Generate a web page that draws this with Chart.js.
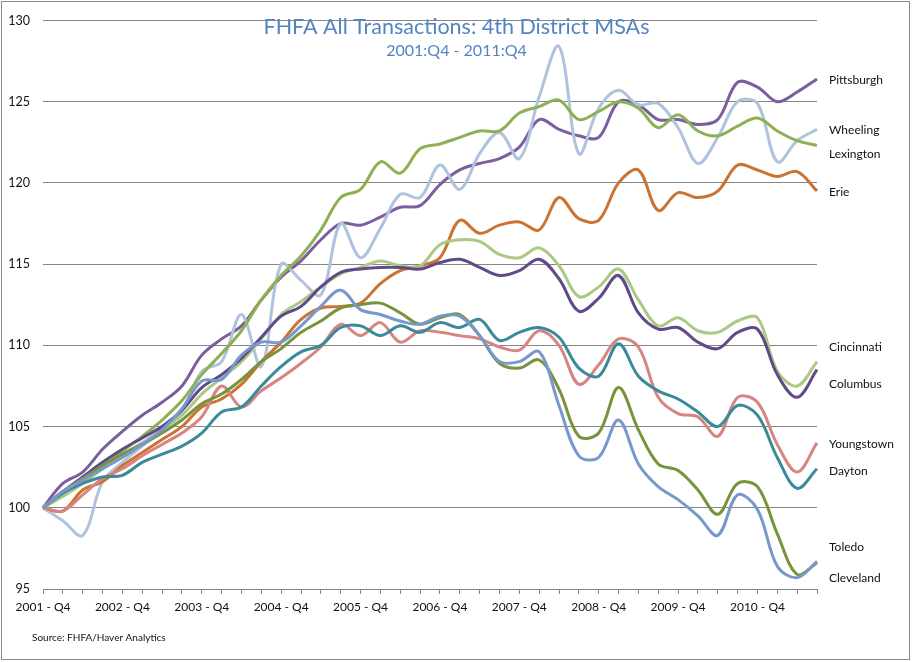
<!DOCTYPE html>
<html>
<head>
<meta charset="utf-8">
<script src="https://cdn.jsdelivr.net/npm/chart.js@4.4.1/dist/chart.umd.min.js"></script>
<style>
  html, body { margin: 0; padding: 0; background: #fff; }
</style>
</head>
<body>
<canvas id="myChart" width="913" height="662"></canvas>
<script>
const quarters = [
  '2001 - Q4', '2002 - Q1', '2002 - Q2', '2002 - Q3', '2002 - Q4', '2003 - Q1', '2003 - Q2', '2003 - Q3',
  '2003 - Q4', '2004 - Q1', '2004 - Q2', '2004 - Q3', '2004 - Q4', '2005 - Q1', '2005 - Q2', '2005 - Q3',
  '2005 - Q4', '2006 - Q1', '2006 - Q2', '2006 - Q3', '2006 - Q4', '2007 - Q1', '2007 - Q2', '2007 - Q3',
  '2007 - Q4', '2008 - Q1', '2008 - Q2', '2008 - Q3', '2008 - Q4', '2009 - Q1', '2009 - Q2', '2009 - Q3',
  '2009 - Q4', '2010 - Q1', '2010 - Q2', '2010 - Q3', '2010 - Q4', '2011 - Q1', '2011 - Q2', '2011 - Q3'
];

const pittsburgh = [100, 101.5, 102.2, 103.6, 104.7, 105.7, 106.5, 107.5, 109.4, 110.4, 111.2, 112.8, 114.2, 115.2, 116.5, 117.5, 117.4, 117.9, 118.5, 118.6, 119.9, 120.8, 121.2, 121.5, 122.2, 123.9, 123.3, 122.9, 122.8, 125.0, 124.8, 123.9, 123.9, 123.6, 123.9, 126.2, 125.9, 125.0, 125.6, 126.4];
const wheeling = [100, 99.2, 98.3, 101.6, 102.8, 103.8, 104.8, 106.0, 108.4, 109.0, 111.9, 108.7, 115.0, 114.0, 113.1, 117.5, 115.4, 117.2, 119.3, 119.1, 121.1, 119.6, 121.8, 123.1, 121.5, 125.3, 128.4, 121.8, 124.6, 125.7, 124.8, 124.9, 123.4, 121.2, 122.8, 125.0, 124.9, 121.3, 122.6, 123.3];
const lexington = [100, 100.8, 101.6, 102.5, 103.5, 104.4, 105.4, 106.6, 108.2, 109.5, 110.9, 112.8, 114.3, 115.5, 117.1, 119.1, 119.6, 121.3, 120.6, 122.1, 122.4, 122.8, 123.2, 123.2, 124.3, 124.7, 125.1, 123.9, 124.4, 125.0, 124.6, 123.4, 124.2, 123.2, 122.9, 123.5, 124.0, 123.2, 122.6, 122.3];
const erie = [100, 99.8, 101.1, 101.6, 102.6, 103.4, 104.2, 105.0, 106.2, 106.7, 107.6, 109.0, 110.2, 111.6, 112.3, 112.4, 112.6, 113.8, 114.6, 114.9, 115.4, 117.7, 116.9, 117.4, 117.6, 117.1, 119.1, 117.8, 117.7, 120.0, 120.8, 118.3, 119.4, 119.1, 119.5, 121.1, 120.8, 120.4, 120.7, 119.5];
const cincinnati = [100, 100.7, 101.5, 102.4, 103.3, 104.0, 104.8, 105.7, 107.0, 108.0, 109.0, 110.4, 111.9, 112.7, 113.6, 114.4, 114.8, 115.2, 114.9, 114.9, 116.2, 116.5, 116.4, 115.6, 115.4, 116.0, 114.9, 113.0, 113.6, 114.7, 112.8, 111.2, 111.7, 110.9, 110.8, 111.5, 111.7, 108.4, 107.5, 109.0];
const columbus = [100, 101.0, 101.9, 102.8, 103.6, 104.3, 105.0, 106.0, 107.4, 108.2, 109.2, 110.5, 111.8, 112.4, 113.6, 114.5, 114.7, 114.8, 114.8, 114.7, 115.1, 115.3, 114.8, 114.3, 114.6, 115.3, 114.1, 112.1, 112.9, 114.3, 112.0, 111.0, 111.1, 110.2, 109.8, 110.8, 111.0, 108.2, 106.8, 108.5];
const youngstown = [100, 99.8, 100.8, 101.8, 102.4, 103.2, 103.9, 104.6, 105.6, 107.5, 106.2, 107.2, 108.0, 108.9, 109.9, 111.3, 110.6, 111.4, 110.2, 110.9, 110.8, 110.6, 110.4, 109.9, 109.7, 110.9, 110.0, 107.6, 108.8, 110.4, 109.9, 106.8, 105.8, 105.6, 104.4, 106.8, 106.5, 103.9, 102.2, 104.0];
const dayton = [100, 100.9, 101.5, 101.9, 102.0, 102.8, 103.3, 103.8, 104.6, 105.9, 106.2, 107.5, 108.7, 109.6, 110.0, 111.1, 111.2, 110.6, 111.2, 110.8, 111.4, 111.1, 111.6, 110.3, 110.8, 111.1, 110.5, 108.6, 108.1, 110.1, 108.1, 107.2, 106.7, 105.9, 105.0, 106.3, 105.7, 103.1, 101.2, 102.4];
const toledo = [100, 101.0, 101.8, 102.6, 103.3, 103.9, 104.6, 105.4, 106.4, 107.0, 107.9, 109.0, 109.8, 110.8, 111.5, 112.3, 112.5, 112.6, 112.0, 111.3, 111.7, 111.9, 110.6, 108.9, 108.6, 109.1, 107.3, 104.4, 104.6, 107.4, 104.8, 102.7, 102.3, 101.1, 99.6, 101.5, 101.3, 98.4, 95.9, 96.6];
const cleveland = [100, 101.0, 101.7, 102.4, 103.1, 103.9, 104.8, 106.1, 107.8, 107.9, 109.4, 110.2, 110.2, 111.2, 112.4, 113.4, 112.2, 111.9, 111.5, 111.3, 111.8, 111.8, 110.6, 109.0, 109.0, 109.6, 106.3, 103.2, 103.1, 105.4, 102.7, 101.3, 100.5, 99.5, 98.3, 100.8, 99.9, 96.4, 95.7, 96.7];

const seriesNames = ['Pittsburgh', 'Wheeling', 'Lexington', 'Erie', 'Cincinnati', 'Columbus', 'Youngstown', 'Dayton', 'Toledo', 'Cleveland'];
const seriesData = [pittsburgh, wheeling, lexington, erie, cincinnati, columbus, youngstown, dayton, toledo, cleveland];
const seriesColors = ['#7B5E9F', '#AFC3DE', '#8DB152', '#CB7431', '#ABC983', '#604A8A', '#D68580', '#3A8A9B', '#77933C', '#7898CD'];
// where each name sits on the value axis, right of the plot
const labelAt = [126.35, 123.25, 121.8, 119.45, 109.9, 107.6, 103.9, 102.25, 97.6, 95.7];

const yTicks = [95, 100, 105, 110, 115, 120, 125, 130];

const fontFamily = 'Lato, "Open Sans", sans-serif';

const decorPlugin = {
  id: 'decor',
  afterDatasetsDraw(chart) {
    const ctx = chart.ctx;
    const y = chart.scales.y;
    const area = chart.chartArea;
    ctx.save();
    // series names
    ctx.font = '12px ' + fontFamily;
    ctx.fillStyle = '#111';
    ctx.textAlign = 'left';
    ctx.textBaseline = 'middle';
    seriesNames.forEach((name, i) => {
      ctx.fillText(name, area.right + 12, y.getPixelForValue(labelAt[i]));
    });
    // title
    ctx.textAlign = 'center';
    ctx.fillStyle = '#5284C2';
    ctx.font = '21.5px ' + fontFamily;
    ctx.fillText('FHFA All Transactions: 4th District MSAs', chart.width / 2, 27);
    ctx.font = '16px ' + fontFamily;
    ctx.fillText('2001:Q4 - 2011:Q4', chart.width / 2, 51);
    // source
    ctx.textAlign = 'left';
    ctx.fillStyle = '#111';
    ctx.font = '10px ' + fontFamily;
    ctx.fillText('Source: FHFA/Haver Analytics', 32, 638);
    // outer frame
    ctx.strokeStyle = '#8a8a8a';
    ctx.lineWidth = 1;
    ctx.strokeRect(1.5, 1.5, 908, 658);
    ctx.restore();
  }
};

const ctx = document.getElementById('myChart').getContext('2d');

const chart = new Chart(ctx, {
  type: 'line',
  data: {
    labels: quarters,
    datasets: seriesNames.map((name, i) => ({
      label: name,
      data: seriesData[i],
      borderColor: seriesColors[i],
      backgroundColor: seriesColors[i],
      borderWidth: 3,
      pointRadius: 0,
      tension: 0.35,
      fill: false
    })).reverse()
  },
  options: {
    responsive: false,
    animation: false,
    layout: { padding: { left: 0, right: 96, top: 15, bottom: 0 } },
    plugins: {
      legend: { display: false },
      title: { display: false },
      tooltip: { enabled: false }
    },
    scales: {
      x: {
        grid: { drawOnChartArea: false, drawTicks: true, tickLength: 5, color: '#868686' },
        border: { display: true, color: '#868686' },
        ticks: {
          autoSkip: false,
          maxRotation: 0,
          padding: 6,
          color: '#111',
          font: { family: fontFamily, size: 12 },
          callback: function(v, i) {
            const l = quarters[i];
            return l.endsWith('Q4') && i < 39 ? l : '';
          }
        },
        afterFit: s => { s.height = 73; }
      },
      y: {
        min: yTicks[0],
        max: yTicks[yTicks.length - 1],
        afterBuildTicks: s => { s.ticks = yTicks.map(v => ({ value: v })); },
        ticks: { padding: 13, color: '#111', font: { family: fontFamily, size: 12.5 } },
        grid: { color: '#868686', drawTicks: false },
        border: { display: false },
        afterFit: s => { s.width = 43; }
      }
    }
  },
  plugins: [decorPlugin]
});
</script>
</body>
</html>
